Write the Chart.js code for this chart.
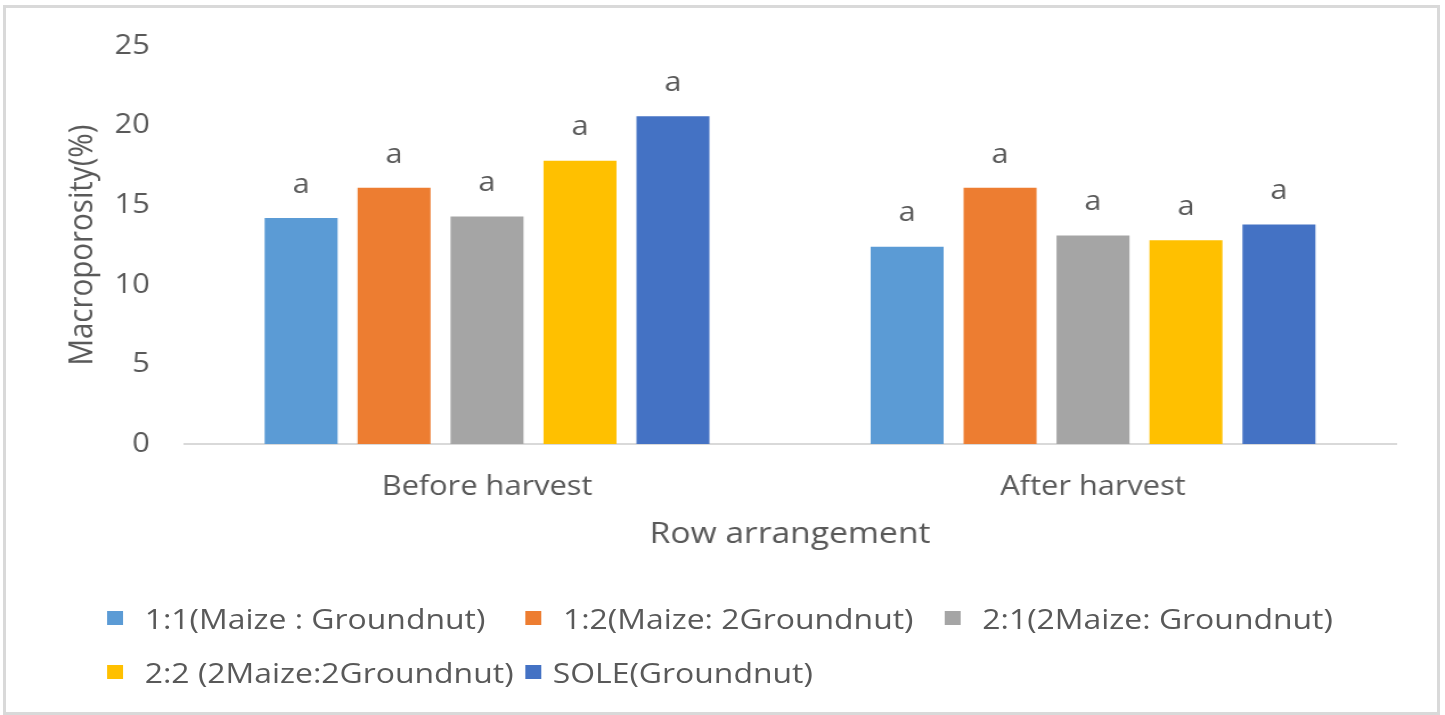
<!DOCTYPE html>
<html>
<head>
<meta charset="utf-8">
<script src="https://cdn.jsdelivr.net/npm/chart.js@4/dist/chart.umd.min.js"></script>
<style>
  html, body { margin: 0; padding: 0; background: #fff; width: 1445px; height: 715px; overflow: hidden; }
  #frame { position: absolute; left: 3px; top: 5px; width: 1437px; height: 710px; border: 3px solid #d9d9d9; box-sizing: border-box; }
  /* the whole figure is drawn at a narrower width and widened horizontally */
  #stage { position: absolute; left: 0; top: 0; width: 1268px; height: 715px; transform-origin: 0 0; transform: scaleX(1.13959); }
  #chart { position: absolute; left: 0; top: 0; }
  #legend { position: absolute; left: 94px; top: 591px; display: grid; grid-template-columns: 367px 368px auto; grid-auto-rows: 54px;
            font-family: "Open Sans", sans-serif; font-size: 28px; color: #595959; }
  .item { display: flex; align-items: center; white-space: nowrap; }
  .box { width: 14px; height: 14px; margin-right: 19px; flex: none; }
  .item.tight .box { margin-right: 10px; }
</style>
</head>
<body>
<div id="frame"></div>
<div id="stage">
  <canvas id="chart" width="1268" height="715"></canvas>
  <div id="legend"></div>
</div>
<script>
// Harvest stage on the category axis
const stages = ["Before harvest", "After harvest"];

// Row arrangement treatments
const treatments = [
  "1:1(Maize : Groundnut)",
  "1:2(Maize: 2Groundnut)",
  "2:1(2Maize: Groundnut)",
  "2:2 (2Maize:2Groundnut)",
  "SOLE(Groundnut)"
];

// Macroporosity (%) per treatment: [before harvest, after harvest]
const maize1Ground1 = [14.2, 12.4];
const maize1Ground2 = [16.1, 16.1];
const maize2Ground1 = [14.3, 13.1];
const maize2Ground2 = [17.8, 12.8];
const soleGroundnut = [20.6, 13.8];

// Mean separation letters per treatment and stage
const letters11 = ["a", "a"];
const letters12 = ["a", "a"];
const letters21 = ["a", "a"];
const letters22 = ["a", "a"];
const lettersSole = ["a", "a"];

const yTicks = [0, 5, 10, 15, 20, 25];

const colours = ["#5B9BD5", "#ED7D31", "#A5A5A5", "#FFC000", "#4472C4"];
const seriesValues = [maize1Ground1, maize1Ground2, maize2Ground1, maize2Ground2, soleGroundnut];
const seriesLetters = [letters11, letters12, letters21, letters22, lettersSole];

const textColour = "#595959";
const fontFamily = "'Open Sans', sans-serif";

// Writes the significance letter above each bar
const letterLabels = {
  id: "letterLabels",
  afterDatasetsDraw(chart) {
    const ctx = chart.ctx;
    ctx.save();
    ctx.font = "27px " + fontFamily;
    ctx.fillStyle = textColour;
    ctx.textAlign = "center";
    ctx.textBaseline = "middle";
    chart.data.datasets.forEach((ds, i) => {
      const meta = chart.getDatasetMeta(i);
      meta.data.forEach((bar, j) => {
        ctx.fillText(ds.letters[j], bar.x, bar.y - 33);
      });
    });
    ctx.restore();
  }
};

const chart = new Chart(document.getElementById("chart"), {
  type: "bar",
  data: {
    labels: stages,
    datasets: treatments.map((name, i) => ({
      label: name,
      data: seriesValues[i],
      letters: seriesLetters[i],
      backgroundColor: colours[i],
      borderWidth: 0,
      categoryPercentage: 0.767,
      barPercentage: 0.785
    }))
  },
  options: {
    responsive: false,
    animation: false,
    devicePixelRatio: 1,
    layout: { padding: { left: 0, right: 43, top: 41, bottom: 0 } },
    plugins: {
      legend: { display: false },
      tooltip: { enabled: false }
    },
    scales: {
      x: {
        grid: { display: false, drawTicks: false },
        border: { display: true, color: "#d9d9d9", width: 2 },
        ticks: { color: textColour, font: { family: fontFamily, size: 27 }, padding: 27, maxRotation: 0 },
        title: { display: true, text: "Row arrangement", color: textColour,
                 font: { family: fontFamily, size: 29.5 }, padding: { top: 0, bottom: 163 } },
        afterFit(scale) { scale.height = 271; }
      },
      y: {
        min: 0, max: 25,
        afterBuildTicks(scale) { scale.ticks = yTicks.map(v => ({ value: v })); },
        grid: { display: false, drawTicks: false },
        border: { display: false },
        ticks: { color: textColour, font: { family: fontFamily, size: 27 }, padding: 30 },
        title: { display: true, text: "Macroporosity(%)", color: textColour,
                 font: { family: fontFamily, size: 29.5 }, padding: { top: 55, bottom: 0 } },
        afterFit(scale) { scale.width = 161.5; }
      }
    }
  },
  plugins: [letterLabels]
});

// Legend laid out in columns, built from the chart's datasets
const legendEl = document.getElementById("legend");
chart.data.datasets.forEach((ds, i) => {
  const item = document.createElement("div");
  item.className = i === 4 ? "item tight" : "item";
  const box = document.createElement("span");
  box.className = "box";
  box.style.background = ds.backgroundColor;
  const txt = document.createElement("span");
  txt.textContent = ds.label;
  item.appendChild(box);
  item.appendChild(txt);
  legendEl.appendChild(item);
});
</script>
</body>
</html>
